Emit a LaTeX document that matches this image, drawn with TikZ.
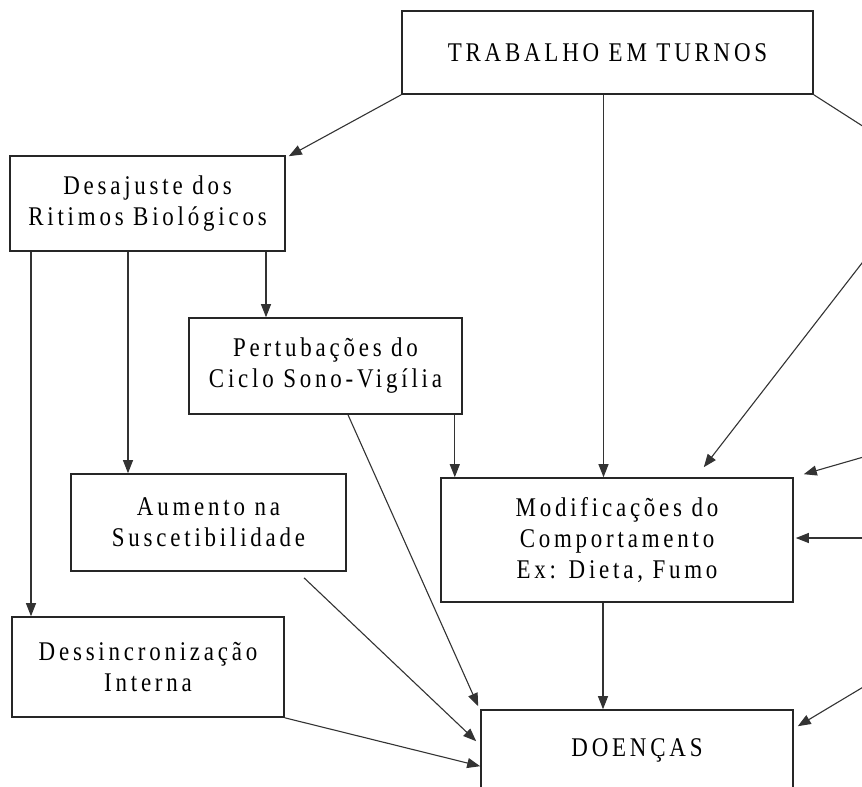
\documentclass[tikz,border=0pt]{standalone}
\usepackage{fontspec}
\setmainfont{Liberation Serif}[FakeStretch=0.85,LetterSpace=14]
\usetikzlibrary{arrows.meta}

\begin{document}
\begin{tikzpicture}[x=1pt,y=-1pt,
        caixa/.style={draw=black!85, line width=1.6pt, align=center, inner sep=0pt,
                font=\fontsize{27}{31}\selectfont},
        seta/.style={draw=black!80, line width=1.1pt, -{Triangle[length=13pt,width=10pt]}},
        linha/.style={draw=black!80, line width=1.1pt}]
                \useasboundingbox (0,0) rectangle (862,787);
                \clip (0,0) rectangle (862,787);
                % caixas
                \node[caixa, minimum width=411, minimum height=83] (turnos) at (607.5,52.5) {TRABALHO EM TURNOS};
                \node[caixa, minimum width=275, minimum height=95] (desajuste) at (147.5,203.5) {Desajuste dos\\Ritimos Biológicos};
                \node[caixa, minimum width=273, minimum height=96] (pertub) at (325.5,366) {Pertubações do\\Ciclo Sono-Vigília};
                \node[caixa, minimum width=275, minimum height=97] (aumento) at (208.5,522.5) {Aumento na\\Suscetibilidade};
                \node[caixa, minimum width=352, minimum height=124] (modif) at (617,540) {Modificações do\\Comportamento\\Ex: Dieta, Fumo};
                \node[caixa, minimum width=272, minimum height=100] (dessinc) at (148,667) {Dessincronização\\Interna};
                \node[caixa, minimum width=312, minimum height=80] (doencas) at (637,750) {DOENÇAS};
                % pontas livres, fora da margem direita
                \coordinate (r0) at (900,150);
                \coordinate (r1) at (900,214);
                \coordinate (r2) at (900,446.5);
                \coordinate (r3) at (900,538);
                \coordinate (r4) at (900,665);
                % setas
                \draw[seta] (turnos.south west) -- ([shift={(3,1)}]desajuste.north east);
                \draw[seta] ([shift={(-4,0)}]turnos.south) -- ([shift={(-4,0)}]turnos.south |- modif.north);
                \draw[linha] (turnos.south east) -- (r0);
                \draw[seta] (r1) -- ([shift={(-90,-10)}]modif.north east);
                \draw[seta] (r2) -- ([shift={(10,-3)}]modif.north east);
                \draw[seta] (r3) -- ([shift={(2,-2)}]modif.east);
                \draw[seta] (r4) -- ([shift={(4,17)}]doencas.north east);
                \draw[seta] ([shift={(-116.5,0)}]desajuste.south) -- ([shift={(-116.5,0)}]desajuste.south |- dessinc.north);
                \draw[seta] ([shift={(-19.5,0)}]desajuste.south) -- ([shift={(-19.5,0)}]desajuste.south |- aumento.north);
                \draw[seta] ([shift={(118.5,0)}]desajuste.south) -- ([shift={(118.5,0)}]desajuste.south |- pertub.north);
                \draw[seta] ([shift={(-8,0)}]pertub.south east) -- ([shift={(-8,0)}]pertub.south east |- modif.north);
                \draw[seta] ([shift={(22.5,0)}]pertub.south) -- ([shift={(-2,-3)}]doencas.north west);
                \draw[seta] ([shift={(95.5,6)}]aumento.south) -- ([shift={(-4,32)}]doencas.north west);
                \draw[seta] (dessinc.south east) -- ([shift={(0,57)}]doencas.north west);
                \draw[seta] ([shift={(-14,0)}]modif.south) -- ([shift={(-14,0)}]modif.south |- doencas.north);
\end{tikzpicture}
\end{document}
